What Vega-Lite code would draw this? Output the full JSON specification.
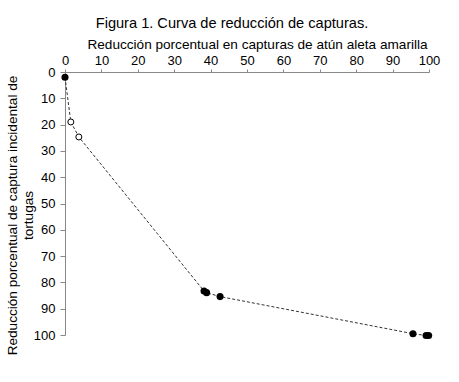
{
  "$schema": "https://vega.github.io/schema/vega-lite/v6.json",
  "width": 364,
  "height": 263,
  "autosize": "none",
  "padding": {"left": 65, "top": 72, "right": 30, "bottom": 47},
  "background": "white",
  "config": {
    "view": {"stroke": null},
    "font": "Liberation Sans"
  },
  "title": {
    "text": "Figura 1. Curva de reducción de capturas.",
    "font": "Liberation Sans",
    "fontSize": 14.6,
    "fontWeight": "normal",
    "color": "black",
    "dx": -15,
    "offset": 6
  },
  "data": {
    "values": [
      {"x": 0, "y": 2, "tipo": "lleno"},
      {"x": 1.6, "y": 19, "tipo": "vacío"},
      {"x": 3.8, "y": 24.7, "tipo": "vacío"},
      {"x": 38.2, "y": 83.3, "tipo": "lleno"},
      {"x": 38.9, "y": 83.9, "tipo": "lleno"},
      {"x": 42.6, "y": 85.4, "tipo": "lleno"},
      {"x": 95.6, "y": 99.5, "tipo": "lleno"},
      {"x": 99.2, "y": 100.2, "tipo": "lleno"},
      {"x": 99.9, "y": 100.2, "tipo": "lleno"}
    ]
  },
  "encoding": {
    "x": {
      "field": "x",
      "type": "quantitative",
      "scale": {"domain": [0, 100], "nice": false, "zero": false},
      "axis": {
        "orient": "top",
        "values": [0, 10, 20, 30, 40, 50, 60, 70, 80, 90, 100],
        "grid": false,
        "title": "Reducción porcentual en capturas de atún aleta amarilla",
        "titleFont": "Liberation Sans",
        "titleFontSize": 13.6,
        "titleFontWeight": "normal",
        "titleColor": "black",
        "titlePadding": 3,
        "titleX": 192,
        "labelFont": "Liberation Sans",
        "labelFontSize": 13,
        "labelColor": "black",
        "labelPadding": 2,
        "labelFlush": false,
        "domainColor": "#888888",
        "tickColor": "#888888",
        "tickSize": 3
      }
    },
    "y": {
      "field": "y",
      "type": "quantitative",
      "scale": {"domain": [0, 100], "reverse": true, "nice": false, "zero": false},
      "axis": {
        "values": [0, 10, 20, 30, 40, 50, 60, 70, 80, 90, 100],
        "grid": false,
        "title": ["Reducción porcentual de captura incidental de", "tortugas"],
        "titleFont": "Liberation Sans",
        "titleFontSize": 13.6,
        "titleFontWeight": "normal",
        "titleColor": "black",
        "titlePadding": -2,
        "titleY": 143,
        "labelFont": "Liberation Sans",
        "labelFontSize": 13,
        "labelColor": "black",
        "labelPadding": 5,
        "labelFlush": false,
        "domainColor": "#888888",
        "tickColor": "#888888",
        "tickSize": 5
      }
    }
  },
  "layer": [
    {
      "mark": {"type": "line", "color": "#333333", "strokeWidth": 1, "strokeDash": [3, 2]},
      "encoding": {"order": {"field": "x", "type": "quantitative"}}
    },
    {
      "transform": [{"filter": "datum.tipo === 'lleno'"}],
      "mark": {"type": "circle", "color": "black", "opacity": 1, "size": 50}
    },
    {
      "transform": [{"filter": "datum.tipo === 'vacío'"}],
      "mark": {"type": "point", "shape": "circle", "stroke": "black", "fill": "white", "filled": true, "strokeWidth": 1, "opacity": 1, "size": 36}
    }
  ]
}
